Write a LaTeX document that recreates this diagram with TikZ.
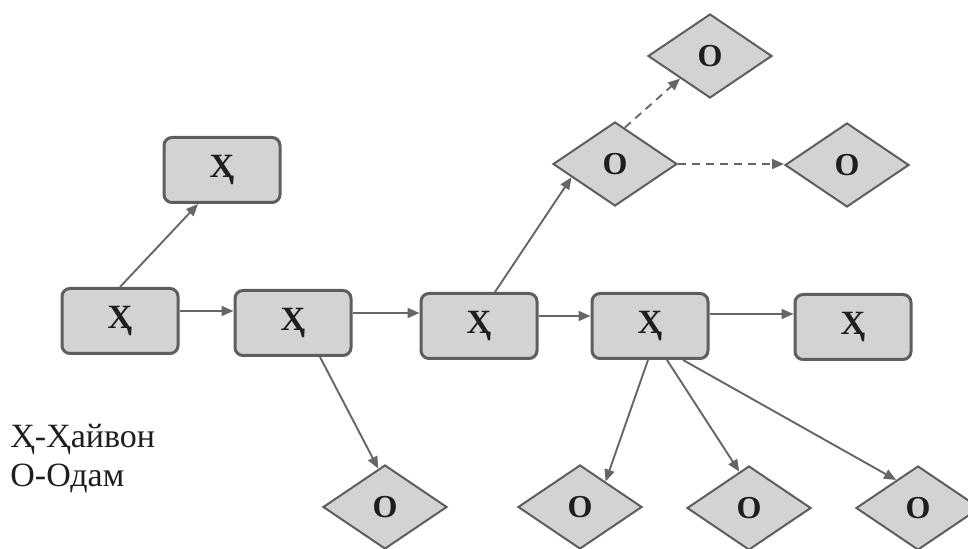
\documentclass[tikz,border=0pt]{standalone}
\usepackage{fontspec}
\setmainfont{Liberation Serif}
\usetikzlibrary{shapes.geometric,arrows.meta}
\definecolor{boxfill}{HTML}{D4D2D2}
\definecolor{boxline}{HTML}{5E5E5E}
\definecolor{arrcol}{HTML}{666666}
\definecolor{inkcol}{HTML}{1E1E1E}
\tikzset{
  xbox/.style={draw=boxline, line width=1.5pt, fill=boxfill, rounded corners=4pt,
    minimum width=58pt, minimum height=32.5pt, inner sep=0pt,
    font=\fontsize{17}{18}\selectfont\bfseries, text=inkcol},
  obox/.style={diamond, draw=boxline, line width=1pt, fill=boxfill,
    minimum width=62pt, minimum height=42pt, inner sep=0pt,
    font=\fontsize{16}{18}\selectfont\bfseries, text=inkcol},
  arr/.style={draw=arrcol, line width=0.95pt, -{Triangle[length=6pt,width=5pt]}},
  darr/.style={arr, dashed, dash pattern=on 4pt off 3pt},
  legend/.style={anchor=base west, inner sep=0pt, font=\fontsize{17}{19}\selectfont, text=inkcol}
}
\begin{document}
\begin{tikzpicture}[x=0.5pt,y=-0.5pt]
\useasboundingbox (0,0) rectangle (968,549);
% boxes
\node[xbox] (b0) at (222,170) {Ҳ};
\node[xbox] (b1) at (120,321) {Ҳ};
\node[xbox] (b2) at (293,323) {Ҳ};
\node[xbox] (b3) at (479,326) {Ҳ};
\node[xbox] (b4) at (650,326) {Ҳ};
\node[xbox] (b5) at (853,327) {Ҳ};
% diamonds
\node[obox] (dtop) at (710,56) {О};
\node[obox] (dmid) at (615,164) {О};
\node[obox] (dright) at (847,165) {О};
\node[obox] (db1) at (385,507) {О};
\node[obox] (db2) at (580,507) {О};
\node[obox] (db3) at (749,508) {О};
\node[obox] (db4) at (918,508) {О};
% legend
\node[legend] (leg1) at (10,448) {Ҳ-Ҳайвон};
\node[legend] (leg2) at (10,487) {О-Одам};
% connectors
\draw[arr] (b1.north) -- ([xshift=-12pt]b0.south);
\draw[arr] ([yshift=5pt]b1.east) -- ([yshift=5pt]b1.east -| b2.west);
\draw[arr] ([yshift=5pt]b2.east) -- ([yshift=5pt]b2.east -| b3.west);
\draw[arr] ([yshift=5pt]b3.east) -- ([yshift=5pt]b3.east -| b4.west);
\draw[arr] ([yshift=6pt]b4.east) -- ([yshift=6pt]b4.east -| b5.west);
\draw[arr] ([xshift=13.5pt]b2.south) -- (db1.100);
\draw[arr] ([xshift=8pt]b3.north) -- (dmid.197);
\draw[darr] (dmid.75) -- (dtop.217);
\draw[darr] (dmid.east) -- (dmid.east -| dright.west);
\draw[arr] ([xshift=-1pt]b4.south) -- (db2.45);
\draw[arr] ([xshift=8.5pt]b4.south) -- (db3.105);
\draw[arr] ([xshift=16.5pt]b4.south) -- (db4.128);
\end{tikzpicture}
\end{document}
